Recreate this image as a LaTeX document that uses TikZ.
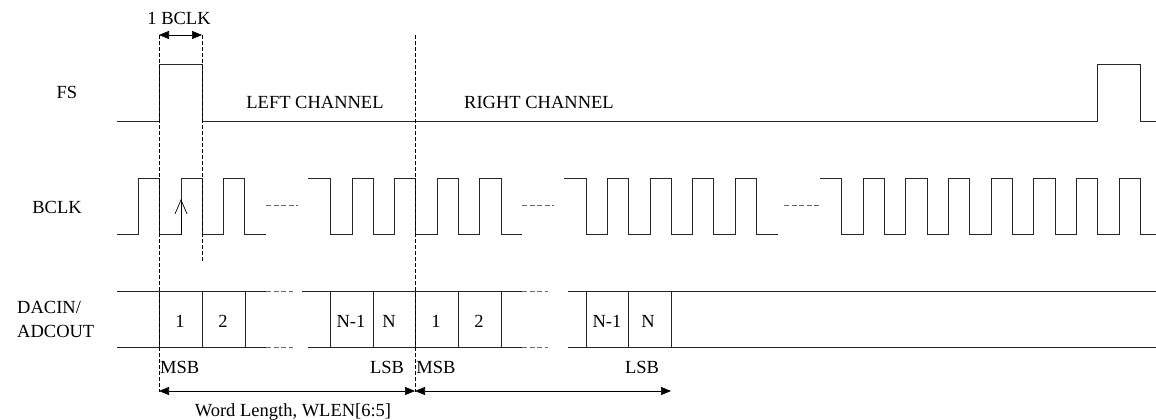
\documentclass[tikz,border=0pt]{standalone}
\usepackage{fontspec}
\setmainfont{Liberation Serif}
\usetikzlibrary{arrows.meta}
\begin{document}
\begin{tikzpicture}[x=1pt,y=-1pt,
  sig/.style={line width=0.7pt, black!85, line join=miter},
  gapdash/.style={line width=0.7pt, black!60, dash pattern=on 5pt off 2.5pt},
  guide/.style={line width=0.6pt, black, dash pattern=on 4pt off 2pt},
  lbl/.style={font=\fontsize{18.5}{19}\selectfont, inner sep=0pt, anchor=base},
  dimarrow/.style={line width=0.6pt, {Triangle[length=10pt,width=8pt]}-{Triangle[length=10pt,width=8pt]}}]
\useasboundingbox (0,0) rectangle (1156,420);

% labels
\node[lbl] (fs) at (67,99) {FS};
\node[lbl] (bclk) at (57,213) {BCLK};
\node[lbl, anchor=base west] (dacin) at (17,313) {DACIN/};
\node[lbl, anchor=base west] (adcout) at (17,337) {ADCOUT};
\node[lbl] (onebclk) at (179,25) {1 BCLK};
\node[lbl] (left) at (315,108) {LEFT CHANNEL};
\node[lbl] (right) at (539,108) {RIGHT CHANNEL};
\node[lbl] (wlen) at (293,416) {Word Length, WLEN[6:5]};
\node[lbl, anchor=base west] (msb1) at (160,373) {MSB};
\node[lbl] (lsb1) at (387,373) {LSB};
\node[lbl] (msb2) at (436,373) {MSB};
\node[lbl] (lsb2) at (642,373) {LSB};
\node[lbl] (b1) at (180,327) {1};
\node[lbl] (b2) at (223,327) {2};
\node[lbl] (bn1) at (351,327) {N-1};
\node[lbl] (bn) at (389,327) {N};
\node[lbl] (c1) at (436,327) {1};
\node[lbl] (c2) at (479,327) {2};
\node[lbl] (cn1) at (607,327) {N-1};
\node[lbl] (cn) at (648,327) {N};

% FS
\draw[sig] (117,121) -- (159,121) -- (159,64) -- (202,64) -- (202,121) -- (1097,121) -- (1097,64) -- (1140,64) -- (1140,121) -- (1156,121);

% BCLK
\draw[sig] (117,234) -- (138,234) -- (138,178) -- (159,178) -- (159,234) -- (181,234) -- (181,178) -- (202,178) -- (202,234) -- (223,234) -- (223,178) -- (244,178) -- (244,234) -- (266,234);
\draw[gapdash] (266,205) -- (298,205);
\draw[sig] (308,178) -- (330,178) -- (330,234) -- (352,234) -- (352,178) -- (373,178) -- (373,234) -- (394,234) -- (394,178) -- (415,178) -- (415,234) -- (437,234) -- (437,178) -- (458,178) -- (458,234) -- (479,234) -- (479,178) -- (501,178) -- (501,234) -- (522,234);
\draw[gapdash] (522,205) -- (554,205);
\draw[sig] (564,178) -- (586,178) -- (586,234) -- (607,234) -- (607,178) -- (628,178) -- (628,234) -- (650,234) -- (650,178) -- (671,178) -- (671,234) -- (692,234) -- (692,178) -- (713,178) -- (713,234) -- (735,234) -- (735,178) -- (756,178) -- (756,234) -- (778,234);
\draw[gapdash] (784,205) -- (821,205);
\draw[sig] (820,178) -- (841,178) -- (841,234) -- (863,234) -- (863,178) -- (884,178) -- (884,234) -- (905,234) -- (905,178) -- (927,178) -- (927,234) -- (948,234) -- (948,178) -- (969,178) -- (969,234) -- (991,234) -- (991,178) -- (1012,178) -- (1012,234) -- (1033,234) -- (1033,178) -- (1055,178) -- (1055,234) -- (1076,234) -- (1076,178) -- (1097,178) -- (1097,234) -- (1119,234) -- (1119,178) -- (1140,178) -- (1140,234) -- (1156,234);

% rising-edge arrow
\coordinate (ea) at (181,234);
\coordinate (eb) at (181,199);
\draw[line width=0.7pt, -{Straight Barb[length=14pt,width=12pt,line width=0.7pt]}] (ea) -- (eb);

% DATA
\draw[sig] (117,291) -- (266,291) (117,347) -- (266,347);
\draw[gapdash] (266,291) -- (293,291) (266,347) -- (293,347);
\draw[sig] (302,291) -- (522,291) (308,347) -- (522,347);
\draw[gapdash] (522,291) -- (548,291) (522,347) -- (548,347);
\draw[sig] (568,291) -- (1156,291) (568,347) -- (1156,347);
\foreach \x in {159,202,245,330,373,415,458,501,586,628,671}
  \draw[sig] (\x,291) -- (\x,347);

% guide lines
\draw[guide] (159,35) -- (159,392);
\draw[guide] (202,35) -- (202,262);
\draw[guide] (415,35) -- (415,392);

% dimension arrows
\coordinate (d1a) at (159,35);
\coordinate (d1b) at (202,35);
\coordinate (w0) at (159,391);
\coordinate (w1) at (415,391);
\coordinate (w2) at (671,391);
\draw[dimarrow] (d1a) -- (d1b);
\draw[dimarrow] (w0) -- (w1);
\draw[dimarrow] (w1) -- (w2);
\end{tikzpicture}
\end{document}
